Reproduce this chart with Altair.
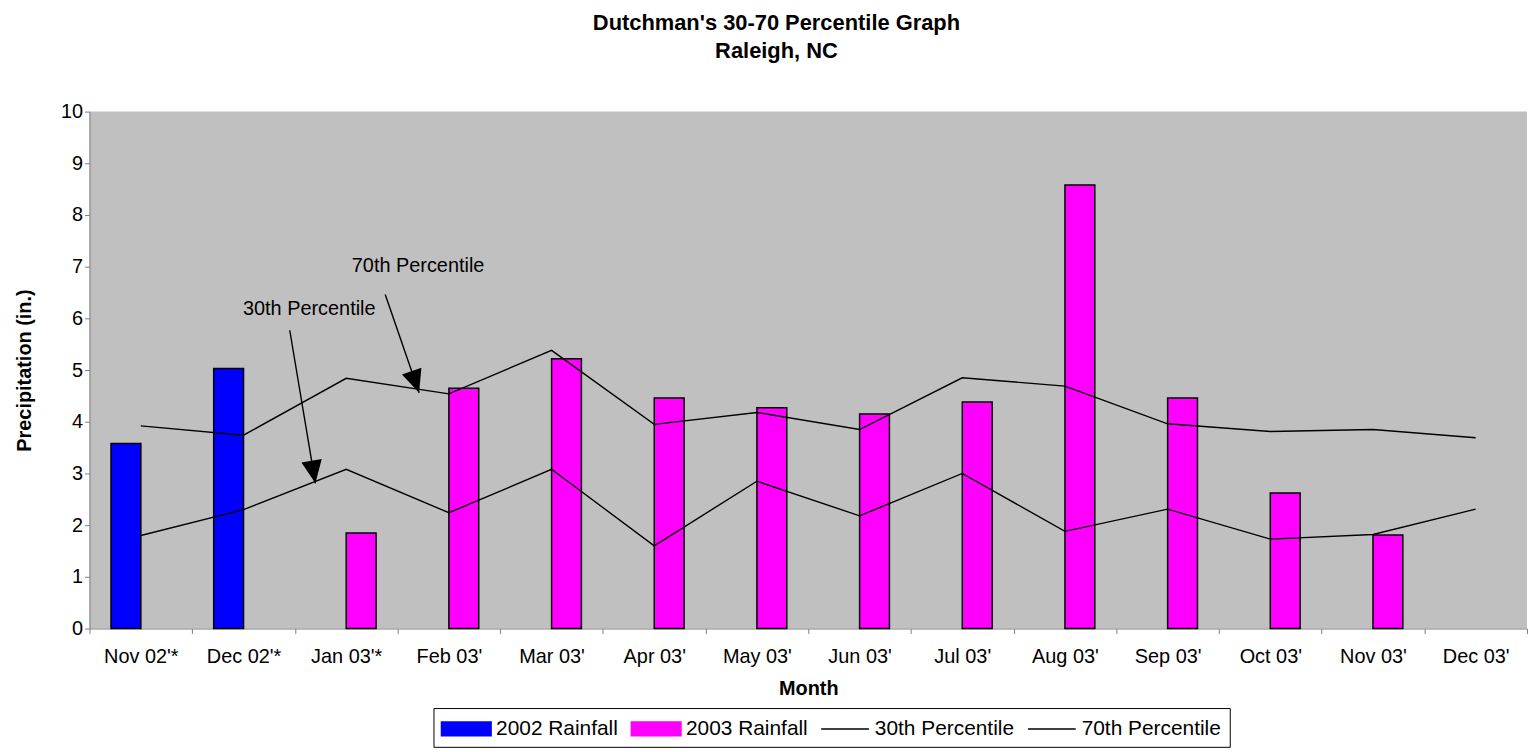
import altair as alt
import pandas as pd

# ---------------- data ----------------
months = ["Nov 02'*", "Dec 02'*", "Jan 03'*", "Feb 03'", "Mar 03'", "Apr 03'", "May 03'",
          "Jun 03'", "Jul 03'", "Aug 03'", "Sep 03'", "Oct 03'", "Nov 03'", "Dec 03'"]

series_names = ["2002 Rainfall", "2003 Rainfall", "30th Percentile", "70th Percentile"]
series_colors = ["#0000FF", "#FF00FF", "#000000", "#000000"]

months_2002 = ["Nov 02'*", "Dec 02'*"]
rain_2002 = [3.58, 5.03]

months_2003 = ["Jan 03'*", "Feb 03'", "Mar 03'", "Apr 03'", "May 03'", "Jun 03'",
               "Jul 03'", "Aug 03'", "Sep 03'", "Oct 03'", "Nov 03'"]
rain_2003 = [1.85, 4.65, 5.22, 4.46, 4.27, 4.15, 4.38, 8.58, 4.46, 2.62, 1.81]

pct30 = [1.80, 2.30, 3.08, 2.24, 3.08, 1.60, 2.85, 2.18, 3.00, 1.88, 2.31, 1.73, 1.82, 2.31]
pct70 = [3.92, 3.74, 4.84, 4.54, 5.38, 3.95, 4.18, 3.85, 4.85, 4.69, 3.96, 3.81, 3.85, 3.69]

# annotations (in data units: month index 0..14, inches)
ann_text = ["70th Percentile", "30th Percentile"]
ann_text_x = [3.20, 2.14]
ann_text_y = [7.02, 6.19]
arrow_x0 = [2.88, 1.95]
arrow_y0 = [6.46, 5.77]
arrow_x1 = [3.21, 2.20]
arrow_y1 = [4.56, 2.81]
arrow_angle = [161, 170.4]

# ---------------- tables ----------------
bars_df = pd.DataFrame({
    "month": months_2002 + months_2003,
    "series": ["2002 Rainfall"] * len(months_2002) + ["2003 Rainfall"] * len(months_2003),
    "value": rain_2002 + rain_2003,
})
lines_df = pd.DataFrame({
    "month": months + months,
    "series": ["30th Percentile"] * len(months) + ["70th Percentile"] * len(months),
    "value": pct30 + pct70,
})
text_df = pd.DataFrame({"pos": ann_text_x, "value": ann_text_y, "label": ann_text})
arrow_df = pd.DataFrame({"pos": arrow_x0, "value": arrow_y0, "pos2": arrow_x1,
                         "value2": arrow_y1, "angle": arrow_angle})

FONT = "Liberation Sans"
AXIS_GRAY = "#808080"

is_line = "indexof(datum.value, 'Percentile') >= 0"
shape_expr = f"{is_line} ? 'M-2,0H2' : 'M-2.08,-0.58H2.08V0.58H-2.08Z'"

color_enc = alt.Color(
    "series:N",
    scale=alt.Scale(domain=series_names, range=series_colors),
    legend=alt.Legend(
        title=None, orient="none", legendX=346, legendY=600, direction="horizontal",
        strokeColor="black", fillColor="white", padding=8,
        labelFont=FONT, labelFontSize=21, labelColor="black",
        symbolSize=576, symbolOffset=12, labelOffset=17, columnPadding=10,
        symbolType={"expr": shape_expr},
        symbolStrokeColor="black", symbolStrokeWidth=1.5, symbolOpacity=1,
    ),
)

y_title = "Precipitation (in.)"

x_enc = alt.X(
    "month:N",
    scale=alt.Scale(domain=months, paddingInner=0, paddingOuter=0),
    axis=alt.Axis(title="Month", labelAngle=0, tickBand="extent", labelFont=FONT,
                  labelFontSize=20, labelColor="black", labelPadding=13,
                  titleFont=FONT, titleFontSize=20, titleFontWeight="bold",
                  titleColor="black", titlePadding=12, domainColor=AXIS_GRAY,
                  tickColor=AXIS_GRAY, tickSize=5, grid=False),
)
y_scale = alt.Scale(domain=[0, 10], nice=False)
y_enc = alt.Y(
    "value:Q",
    scale=y_scale,
    axis=alt.Axis(title=y_title, values=list(range(11)), labelFont=FONT,
                  labelFontSize=20, labelColor="black", labelPadding=2,
                  titleFont=FONT, titleFontSize=20, titleFontWeight="bold",
                  titleColor="black", titlePadding=26, domainColor=AXIS_GRAY,
                  tickColor=AXIS_GRAY, tickSize=5, grid=False),
)

bars = alt.Chart(bars_df).mark_bar(stroke="black", strokeWidth=1.5).encode(
    x=x_enc,
    xOffset=alt.XOffset("series:N", scale=alt.Scale(domain=series_names[:2],
                                                    paddingInner=0, paddingOuter=0.72)),
    y=y_enc,
    color=color_enc,
)

lines = alt.Chart(lines_df).mark_line(strokeWidth=1.4).encode(
    x=alt.X("month:N", scale=alt.Scale(domain=months, paddingInner=0, paddingOuter=0)),
    y=alt.Y("value:Q", title=y_title),
    color=alt.Color("series:N"),
)

main = alt.layer(bars, lines)

x_ann = alt.X("pos:Q", scale=alt.Scale(domain=[0, 14], nice=False, zero=False), axis=None)

texts = alt.Chart(text_df).mark_text(font=FONT, fontSize=20, color="black",
                                     align="center", baseline="middle").encode(
    x=x_ann, y=alt.Y("value:Q", title=y_title), text="label:N")

arrows = alt.Chart(arrow_df).mark_rule(color="black", strokeWidth=1.4).encode(
    x=x_ann, x2="pos2:Q", y=alt.Y("value:Q", title=y_title), y2="value2:Q")

heads = alt.Chart(arrow_df).mark_point(
    shape="M0,0L-0.45,1L0.45,1Z", filled=True, color="black", opacity=1,
    size=2116, strokeWidth=0).encode(
    x=alt.X("pos2:Q", scale=alt.Scale(domain=[0, 14], nice=False, zero=False), axis=None),
    y=alt.Y("value2:Q", title=y_title),
    angle=alt.Angle("angle:Q", scale=None),
)

ann = alt.layer(texts, arrows, heads)

chart = alt.layer(main, ann).resolve_scale(x="independent").properties(
    width=1446, height=520,
    padding={"left": 6, "right": 0, "top": 2, "bottom": 0},
    title=alt.TitleParams(
        text="Dutchman's 30-70 Percentile Graph", subtitle="Raleigh, NC",
        font=FONT, fontSize=22, fontWeight="bold", color="black",
        subtitleFont=FONT, subtitleFontSize=22, subtitleFontWeight="bold",
        subtitleColor="black", subtitlePadding=6, anchor="middle", dx=-32, offset=39,
    ),
).configure_view(fill="#C0C0C0", stroke=None)

chart.save("out.html", embed_options={"renderer": "svg", "actions": False})
